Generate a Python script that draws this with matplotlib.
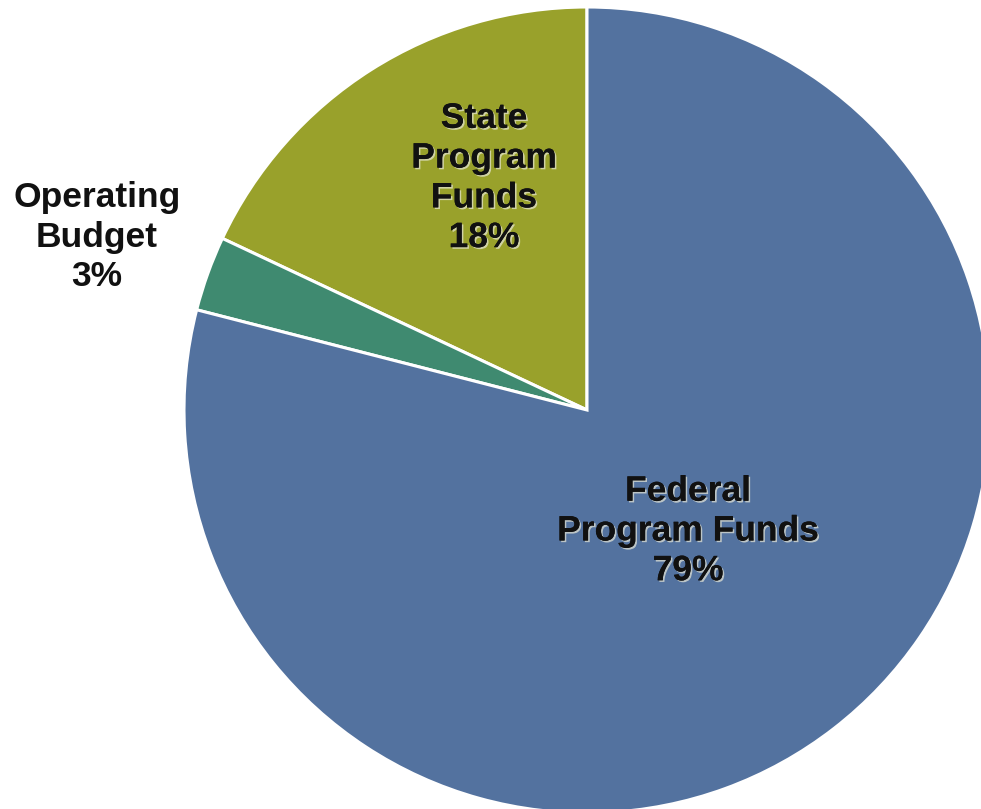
import matplotlib.pyplot as plt
import matplotlib.patheffects as pe

# Funding sources (percent of total)
labels = ['State\nProgram\nFunds', 'Operating\nBudget', 'Federal\nProgram Funds']
shares = [18, 3, 79]
colors = ['#99a12b', '#3f8a70', '#53729f']

plt.rcParams['font.family'] = ['Liberation Sans', 'DejaVu Sans']

fig = plt.figure(figsize=(9.81, 8.09), dpi=100)
ax = fig.add_axes([0, 0, 1, 1])

wedges, _ = ax.pie(shares, colors=colors, startangle=90, counterclock=True,
                   radius=1.0, center=(0, 0),
                   wedgeprops=dict(edgecolor='white', linewidth=2.2))

# axis limits chosen so one data unit is 403 px both ways
scale = 403
ax.set_xlim(-587 / scale, (981 - 587) / scale)
ax.set_ylim(-399 / scale, 410 / scale)
ax.axis('off')

shadow = [pe.withSimplePatchShadow(offset=(1.2, -1.2), shadow_rgbFace='#e8e8d8', alpha=0.7),
          pe.Normal()]

# label centres in pixels from the top-left corner
label_px = [(484, 178), (97, 237), (688, 531)]
for lab, val, (px, py) in zip(labels, shares, label_px):
    x = (px - 587) / scale
    y = (410 - py) / scale
    txt = ax.text(x, y, f'{lab}\n{val}%', ha='center', va='center',
                  fontsize=25.5, fontweight='bold', color='#111111',
                  linespacing=1.26)
    if lab != 'Operating\nBudget':
        txt.set_path_effects(shadow)

fig.savefig('out.png', dpi=100, facecolor='white')
